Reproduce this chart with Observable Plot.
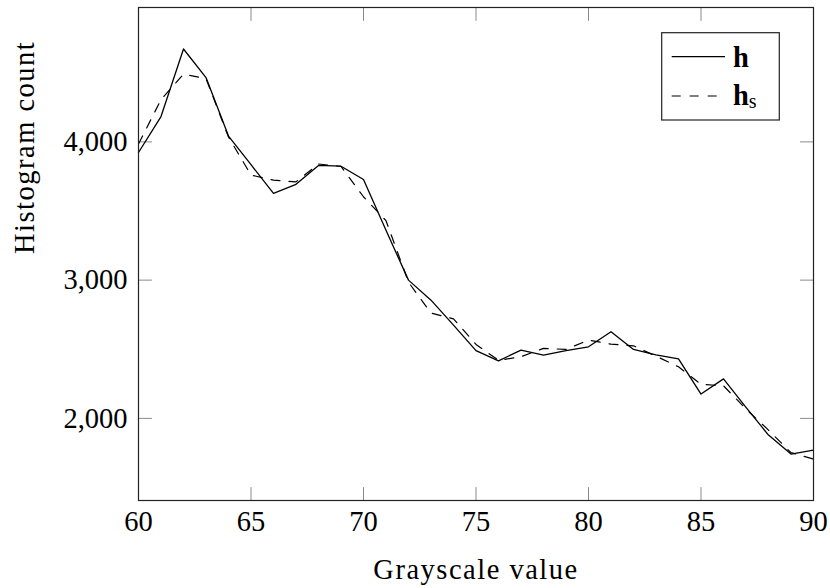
<!DOCTYPE html>
<html><head><meta charset="utf-8">
<script src="https://cdn.jsdelivr.net/npm/d3@7"></script>
<script src="https://cdn.jsdelivr.net/npm/@observablehq/plot@0.6"></script>
<style>
body{margin:0;background:#fff}
svg, svg text, svg tspan {font-family: "Liberation Serif", "Times New Roman", serif !important;}
</style>
</head><body><div id="chart"></div>
<script>
const grayscale = [60,61,62,63,64,65,66,67,68,69,70,71,72,73,74,75,76,77,78,79,80,81,82,83,84,85,86,87,88,89,90];
const hValues  = [3923,4183,4672,4465,4042,3835,3627,3693,3830,3824,3728,3360,3000,2855,2675,2490,2416,2494,2458,2490,2518,2627,2499,2460,2430,2176,2286,2079,1879,1742,1771];
const hsValues = [3985,4305,4490,4458,4035,3760,3723,3711,3840,3822,3603,3430,2985,2762,2720,2535,2420,2446,2506,2499,2566,2537,2525,2450,2373,2246,2236,2068,1915,1752,1706];
const xTicks = [60,65,70,75,80,85,90];
const yTicks = [2000,3000,4000];
const xLabel = "Grayscale value";
const yLabel = "Histogram count";
const xDomain = [60, 90];
const yDomain = [1406, 4972];

const rows = grayscale.map((g, i) => ({g, h: hValues[i], hs: hsValues[i]}));
const tickShape = {draw(ctx, l) { ctx.moveTo(0, 0); ctx.lineTo(0, -l); }};
const tickStyle = {stroke: "#8a8a8a", strokeWidth: 1, length: 13, anchor: "start", shape: tickShape};
const dash = "9,9";

const plot = Plot.plot({
  width: 830, height: 588,
  marginLeft: 138, marginRight: 17, marginTop: 7, marginBottom: 88,
  style: {fontFamily: "Liberation Serif, serif", fontSize: "28.5px", background: "#fff", color: "#000"},
  x: {domain: xDomain},
  y: {domain: yDomain},
  marks: [
    Plot.vector(xTicks, {x: d => d, y: yDomain[0], rotate: 0, ...tickStyle}),
    Plot.vector(xTicks, {x: d => d, y: yDomain[1], rotate: 180, ...tickStyle}),
    Plot.vector(yTicks, {y: d => d, x: xDomain[0], rotate: 90, ...tickStyle}),
    Plot.vector(yTicks, {y: d => d, x: xDomain[1], rotate: 270, ...tickStyle}),
    Plot.line(rows, {x: "g", y: "hs", stroke: "#000", strokeWidth: 1.2, strokeDasharray: dash}),
    Plot.line(rows, {x: "g", y: "h", stroke: "#000", strokeWidth: 1.3}),
    Plot.frame({stroke: "#222", strokeWidth: 1.2}),
    Plot.axisX({ticks: xTicks, tickSize: 0, tickPadding: 10, tickFormat: d => String(d), label: null}),
    Plot.axisY({ticks: yTicks, tickSize: 0, tickPadding: 11, tickFormat: d3.format(","), label: null}),
    Plot.text([xLabel], {frameAnchor: "bottom", text: d => d, dy: 69, lineAnchor: "middle"}),
    Plot.text([yLabel], {frameAnchor: "left", text: d => d, dx: -114, rotate: -90, lineAnchor: "middle"})
  ]
});

const svg = d3.select(plot).attr("font-family", "Liberation Serif, serif");
svg.selectAll("text").filter(function() { return this.textContent === xLabel || this.textContent === yLabel; })
  .attr("letter-spacing", "1.5px");

// legend
const lg = svg.append("g").attr("text-anchor", "start");
lg.append("rect").attr("x", 661.7).attr("y", 32.7).attr("width", 117.6).attr("height", 87.3)
  .attr("fill", "#fff").attr("stroke", "#222").attr("stroke-width", 1.2);
lg.append("line").attr("x1", 671.7).attr("x2", 725).attr("y1", 56.7).attr("y2", 56.7)
  .attr("stroke", "#000").attr("stroke-width", 1.3);
lg.append("line").attr("x1", 671.7).attr("x2", 725).attr("y1", 96).attr("y2", 96)
  .attr("stroke", "#000").attr("stroke-width", 1.2).attr("stroke-dasharray", dash);
lg.append("text").attr("x", 733).attr("y", 66.7).attr("text-anchor", "start").attr("font-weight", "bold").attr("fill", "#000").text("h");
const t2 = lg.append("text").attr("x", 733).attr("y", 105).attr("text-anchor", "start").attr("fill", "#000");
t2.append("tspan").attr("font-weight", "bold").text("h");
t2.append("tspan").attr("font-size", "20px").attr("dy", 2.5).text("s");

document.getElementById("chart").appendChild(plot);
</script>
</body></html>
